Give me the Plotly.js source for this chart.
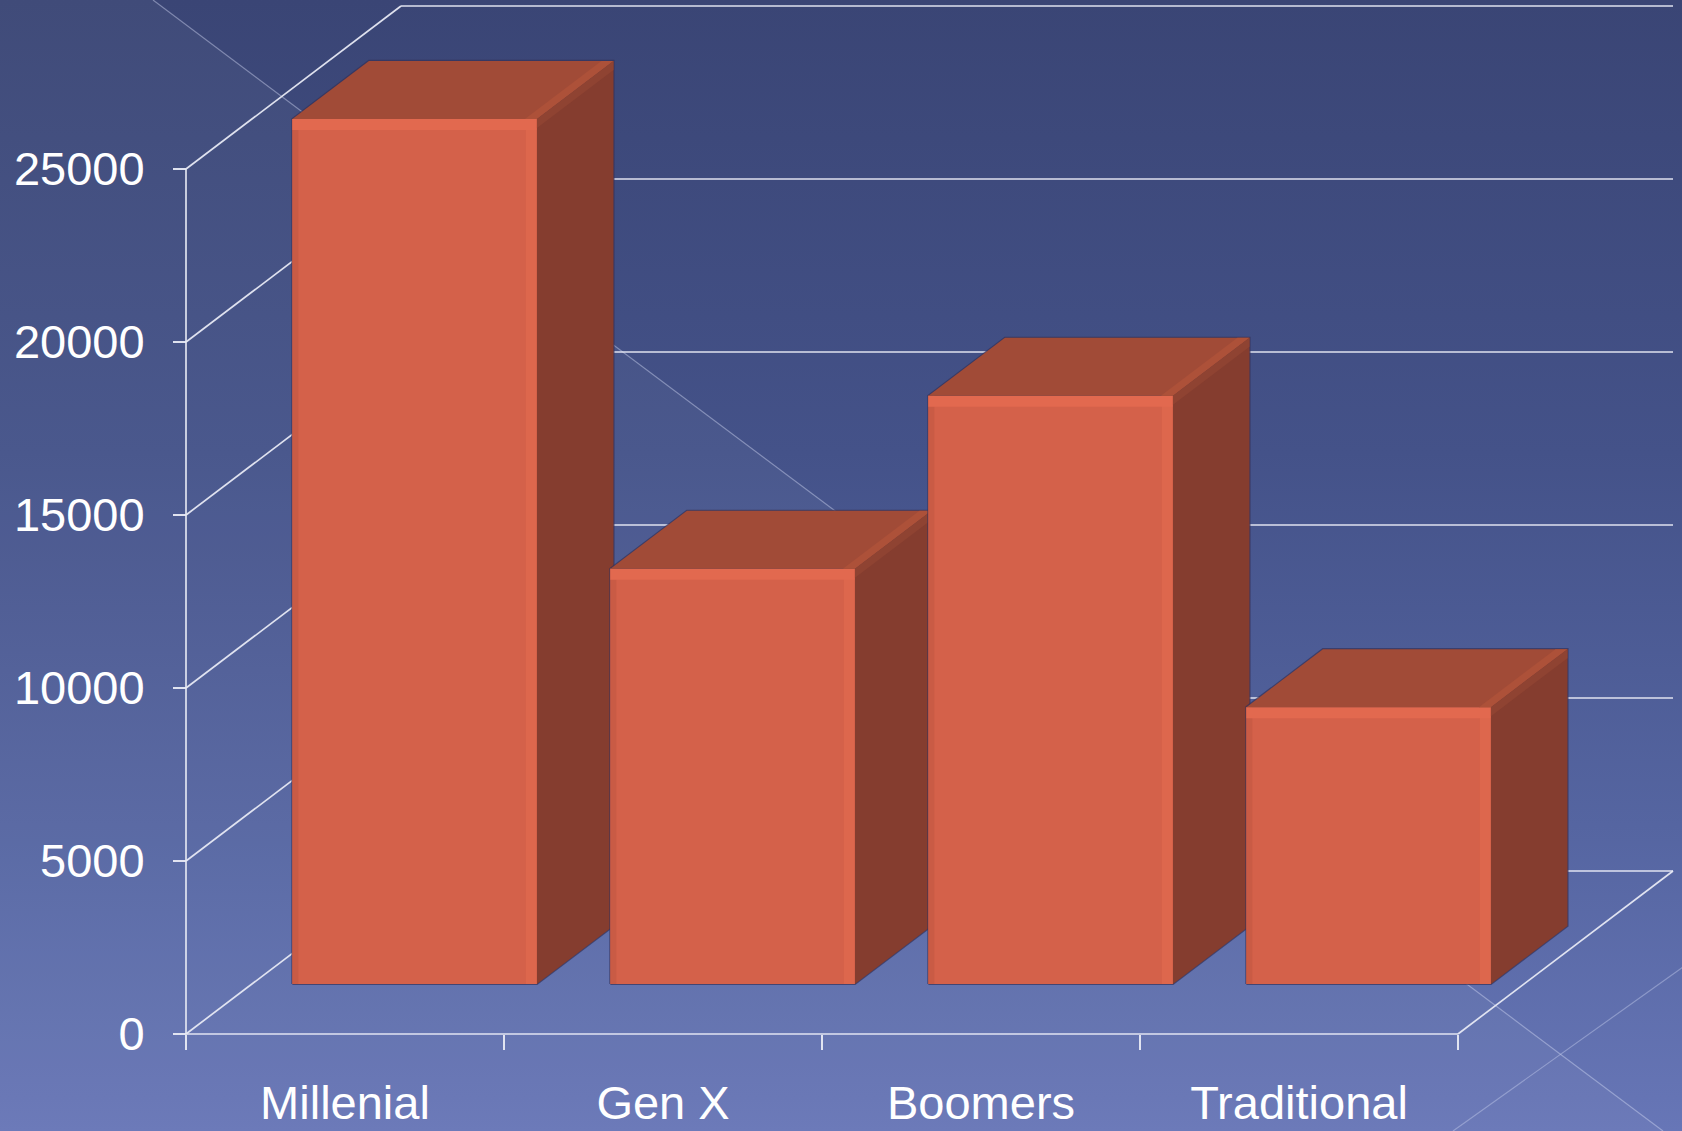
<!DOCTYPE html>
<html><head><meta charset="utf-8">
<script src="https://cdn.plot.ly/plotly-3.0.1.min.js"></script>
<style>html,body{margin:0;padding:0;background:#3a4575;overflow:hidden}#chart{width:1682px;height:1131px}</style>
</head><body><div id="chart"></div>
<script>
// ---- data ----
const categories = ['Millenial', 'Gen X', 'Boomers', 'Traditional'];
const values = [25000, 12000, 17000, 8000];
const yTickValues = [0, 5000, 10000, 15000, 20000, 25000];
const yTickLabels = ['0', '5000', '10000', '15000', '20000', '25000'];

// ---- geometry (oblique 3D projection) ----
const W = 1682, H = 1131;
const ORIGIN_PX = [186, 1034];          // pixel of category 0 edge, value 0, depth 0
const PX_PER_CAT = 318;
const PX_PER_VAL = 173 / 5000;
const DEPTH_PX = [215, 163];            // full floor depth: right, up
const BAR_LEFT = 0.127, BAR_RIGHT = 0.896, BAR_Z0 = 0.307, BAR_Z1 = 0.663;

const xRange = [-ORIGIN_PX[0] / PX_PER_CAT, (W - ORIGIN_PX[0]) / PX_PER_CAT];
const yRange = [-(H - ORIGIN_PX[1]) / PX_PER_VAL, ORIGIN_PX[1] / PX_PER_VAL];
const DX = DEPTH_PX[0] / PX_PER_CAT, DY = DEPTH_PX[1] / PX_PER_VAL;
const px2x = p => p / PX_PER_CAT, px2v = p => p / PX_PER_VAL;
function P(x, v, z) { return [x + z * DX, v + z * DY]; }

function polyTrace(pts, fill, line, lw) {
  const xs = pts.map(p => p[0]), ys = pts.map(p => p[1]);
  xs.push(pts[0][0]); ys.push(pts[0][1]);
  return {type: 'scatter', mode: 'lines', x: xs, y: ys, fill: 'toself', fillcolor: fill,
    line: {color: line || fill, width: lw === undefined ? 0 : lw}, hoverinfo: 'skip', showlegend: false,
    xaxis: 'x', yaxis: 'y'};
}
function segTrace(segs, color, width) {
  const xs = [], ys = [];
  segs.forEach(s => { xs.push(s[0][0], s[1][0], null); ys.push(s[0][1], s[1][1], null); });
  return {type: 'scatter', mode: 'lines', x: xs, y: ys, line: {color: color, width: width},
    hoverinfo: 'skip', showlegend: false, xaxis: 'x', yaxis: 'y'};
}

const nCat = categories.length;
const vMax = yTickValues[yTickValues.length - 1];
const gridColor = 'rgba(232,234,244,0.95)';
const traces = [];

// back wall gridlines
traces.push(segTrace(yTickValues.map(v => [P(0, v, 1), P(nCat, v, 1)]), gridColor, 1.7));
// left wall gridlines
traces.push(segTrace(yTickValues.map(v => [P(0, v, 0), P(0, v, 1)]), gridColor, 1.7));
// front vertical edge, floor front and right edges
traces.push(segTrace([[P(0, 0, 0), P(0, vMax, 0)], [P(0, 0, 0), P(nCat, 0, 0)], [P(nCat, 0, 0), P(nCat, 0, 1)]], gridColor, 1.7));

// bars
values.forEach((v, i) => {
  const x0 = i + BAR_LEFT, x1 = i + BAR_RIGHT, z0 = BAR_Z0, z1 = BAR_Z1;
  // silhouette outline (shadow edge)
  traces.push(polyTrace([P(x0, 0, z0), P(x0, v, z0), P(x0, v, z1), P(x1, v, z1), P(x1, 0, z1), P(x1, 0, z0)],
    'rgba(52,50,90,0.9)', 'rgba(52,50,90,0.7)', 2.2));
  // front face
  traces.push(polyTrace([P(x0, 0, z0), P(x0, v, z0), P(x1, v, z0), P(x1, 0, z0)], '#d4614a'));
  // front bevels
  const bh = px2v(11), bw = px2x(11), lw = px2x(6);
  traces.push(polyTrace([P(x0, 0, z0), P(x0, v, z0), P(x0 + lw, v, z0), P(x0 + lw, 0, z0)], '#c95b45'));
  traces.push(polyTrace([P(x1 - bw, 0, z0), P(x1 - bw, v, z0), P(x1, v, z0), P(x1, 0, z0)], '#dd674d'));
  traces.push(polyTrace([P(x0, v - bh, z0), P(x0, v, z0), P(x1, v, z0), P(x1, v - bh, z0)], '#e2694f'));
  // top face
  traces.push(polyTrace([P(x0, v, z0), P(x1, v, z0), P(x1, v, z1), P(x0, v, z1)], '#a14b37'));
  // side face
  traces.push(polyTrace([P(x1, 0, z0), P(x1, v, z0), P(x1, v, z1), P(x1, 0, z1)], '#853d2f'));
  // top/side bevel strips along the shared edge
  const eb = px2x(12), ev = px2v(9);
  traces.push(polyTrace([P(x1 - eb, v, z0), P(x1, v, z0), P(x1, v, z1), P(x1 - eb, v, z1)], '#ad5139'));
  traces.push(polyTrace([P(x1, v, z0), P(x1, v - ev, z0), P(x1, v - ev, z1), P(x1, v, z1)], '#8f4332'));
});

// x tick marks at category boundaries (separate overlay axis)
traces.push({type: 'scatter', mode: 'lines', x: [xRange[0]], y: [yRange[0]], xaxis: 'x2', yaxis: 'y',
  line: {width: 0}, hoverinfo: 'skip', showlegend: false});

// ---- background image (gradient slide) ----
const bgSvg = "<svg xmlns='http://www.w3.org/2000/svg' width='1682' height='1131' viewBox='0 0 1682 1131' preserveAspectRatio='none'>" +
  "<defs><linearGradient id='g' x1='0' y1='0' x2='0' y2='1'>" +
  "<stop offset='0' stop-color='#3a4575'/><stop offset='0.4' stop-color='#445289'/>" +
  "<stop offset='0.73' stop-color='#5565a1'/><stop offset='0.97' stop-color='#6574b4'/><stop offset='1' stop-color='#6776b7'/>" +
  "</linearGradient></defs>" +
  "<rect width='1682' height='1131' fill='url(#g)'/>" +
  "<polygon points='0,0 153,0 1663,1131 0,1131' fill='#ffffff' fill-opacity='0.035'/>" +
  "<line x1='153' y1='0' x2='1663' y2='1131' stroke='#d0d6f2' stroke-opacity='0.45' stroke-width='1.2'/>" +
  "<line x1='1690' y1='962' x2='1453' y2='1131' stroke='#d0d6f2' stroke-opacity='0.4' stroke-width='1.2'/>" +
  "</svg>";

const font = {family: 'Liberation Sans, Arial, sans-serif', size: 47, color: '#ffffff'};
const layout = {
  width: W, height: H,
  margin: {l: 0, r: 0, t: 0, b: 0, pad: 0},
  paper_bgcolor: '#3a4575', plot_bgcolor: 'rgba(0,0,0,0)',
  showlegend: false, hovermode: false,
  font: font,
  images: [{source: 'data:image/svg+xml;charset=utf-8,' + encodeURIComponent(bgSvg),
    xref: 'paper', yref: 'paper', x: 0, y: 1, sizex: 1, sizey: 1,
    xanchor: 'left', yanchor: 'top', sizing: 'stretch', layer: 'below'}],
  xaxis: {domain: [0, 1], range: xRange, anchor: 'free', position: (H - ORIGIN_PX[1]) / H,
    showgrid: false, zeroline: false, showline: false,
    tickmode: 'array', tickvals: categories.map((c, i) => i + 0.5), ticktext: categories,
    ticks: '', ticklabelstandoff: 37, tickfont: font, fixedrange: true},
  xaxis2: {domain: [0, 1], range: xRange, overlaying: 'x', anchor: 'free', position: (H - ORIGIN_PX[1]) / H,
    showgrid: false, zeroline: false, showline: false, showticklabels: false,
    tickmode: 'array', tickvals: categories.map((c, i) => i).concat([nCat]),
    ticks: 'outside', ticklen: 15, tickwidth: 1.7, tickcolor: gridColor, fixedrange: true},
  yaxis: {domain: [0, 1], range: yRange, anchor: 'free', position: ORIGIN_PX[0] / W,
    showgrid: false, zeroline: false, showline: false,
    tickmode: 'array', tickvals: yTickValues, ticktext: yTickLabels,
    ticks: 'outside', ticklen: 13, tickwidth: 1.7, tickcolor: gridColor,
    ticklabelstandoff: 19, tickfont: font, fixedrange: true}
};

Plotly.newPlot('chart', traces, layout, {staticPlot: true, displayModeBar: false});
</script>
</body></html>
